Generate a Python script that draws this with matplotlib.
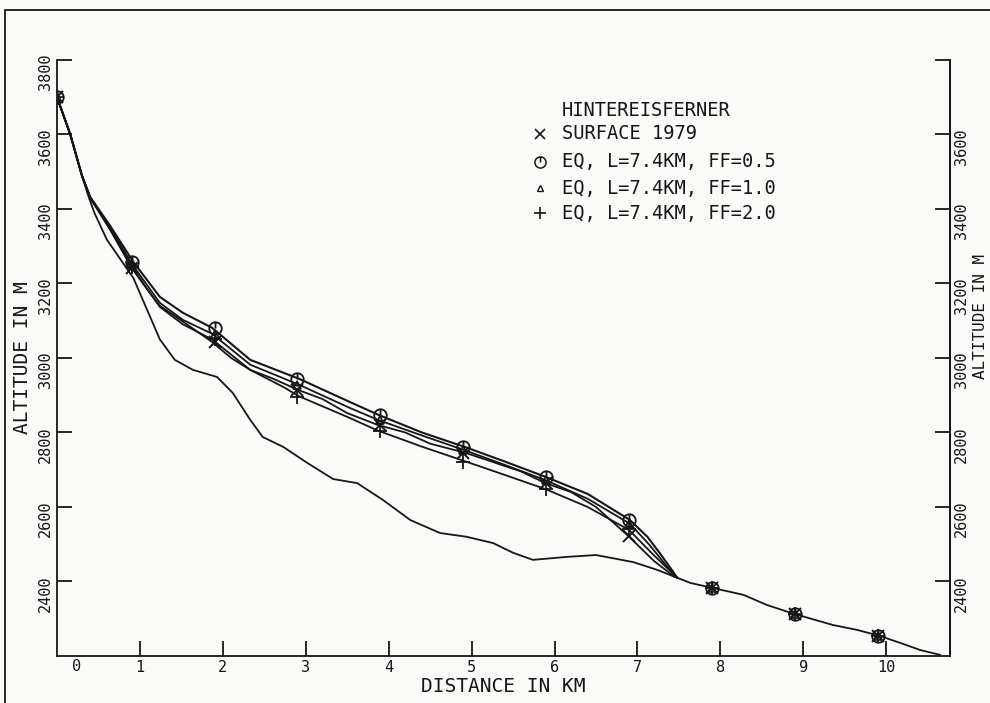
import matplotlib.pyplot as plt
from matplotlib.path import Path
from matplotlib.patches import Rectangle

plt.rcParams['font.family'] = ['DejaVu Sans Mono', 'DejaVu Sans']

# marker positions along the flow line (km) and altitudes (m)
mark_km = [0.0, 0.9, 1.9, 2.9, 3.9, 4.9, 5.9, 6.9, 7.9, 8.9, 9.9]
surf79_mark = [3700, 3242, 3043, 2914, 2820, 2745, 2664, 2522, 2383, 2313, 2254]
ff05_mark = [3700, 3258, 3081, 2944, 2847, 2761, 2681, 2565, 2383, 2313, 2254]
ff10_mark = [3700, 3250, 3065, 2928, 2833, 2752, 2672, 2555, 2383, 2313, 2254]
ff20_mark = [3700, 3245, 3050, 2896, 2805, 2722, 2648, 2540, 2383, 2313, 2254]

# glacier bed / ice-free profile
bed_km = [0, 0.16, 0.30, 0.37, 0.45, 0.60, 0.92, 1.24, 1.42, 1.64, 1.93, 2.12, 2.33,
          2.48, 2.73, 3.02, 3.33, 3.62, 3.93, 4.26, 4.62, 4.94, 5.26, 5.50, 5.74,
          6.15, 6.50, 6.95, 7.24, 7.48, 7.64, 7.90, 8.28, 8.56, 8.89, 9.36, 9.65,
          9.92, 10.17, 10.41, 10.65]
bed_m = [3700, 3600, 3490, 3440, 3390, 3318, 3215, 3050, 2995, 2968, 2949, 2906, 2834,
         2788, 2761, 2718, 2675, 2664, 2619, 2565, 2530, 2520, 2503, 2477, 2458,
         2466, 2471, 2452, 2431, 2410, 2396, 2383, 2364, 2337, 2313, 2283, 2270,
         2254, 2235, 2216, 2203]

# surface 1979
surf79_km = [0, 0.16, 0.30, 0.40, 0.64, 0.90, 1.10, 1.24, 1.40, 1.60, 1.87, 2.10, 2.33,
             2.60, 2.91, 3.20, 3.50, 3.87, 4.20, 4.50, 4.93, 5.20, 5.60, 5.89, 6.20,
             6.50, 6.89, 7.20, 7.45]
surf79_m = [3700, 3600, 3490, 3430, 3345, 3242, 3180, 3140, 3116, 3085, 3043, 3000, 2968,
            2945, 2914, 2890, 2852, 2820, 2800, 2770, 2745, 2725, 2695, 2664, 2640,
            2600, 2522, 2455, 2412]

# equilibrium profiles, L=7.4 km
ff05_km = [0, 0.16, 0.30, 0.40, 0.64, 0.92, 1.24, 1.52, 1.87, 2.33, 2.92, 3.53, 3.88,
           4.40, 4.92, 5.40, 5.89, 6.40, 6.91, 7.12, 7.27, 7.39, 7.48]
ff05_m = [3700, 3600, 3490, 3432, 3355, 3258, 3164, 3121, 3081, 2995, 2944, 2882, 2847,
          2800, 2761, 2722, 2681, 2635, 2565, 2520, 2476, 2439, 2410]

ff10_km = [0, 0.16, 0.30, 0.40, 0.64, 0.91, 1.24, 1.52, 1.87, 2.33, 2.92, 3.53, 3.88,
           4.40, 4.92, 5.40, 5.89, 6.40, 6.91, 7.15, 7.35, 7.48]
ff10_m = [3700, 3600, 3490, 3431, 3350, 3250, 3148, 3102, 3065, 2982, 2928, 2866, 2833,
          2792, 2752, 2713, 2672, 2622, 2555, 2497, 2442, 2410]

ff20_km = [0, 0.16, 0.30, 0.40, 0.64, 0.90, 1.24, 1.52, 1.87, 2.33, 2.73, 2.92, 3.53,
           3.87, 4.40, 4.93, 5.40, 5.89, 6.40, 6.90, 7.20, 7.48]
ff20_m = [3700, 3600, 3490, 3430, 3345, 3245, 3137, 3090, 3050, 2968, 2922, 2897, 2839,
          2805, 2762, 2722, 2686, 2648, 2600, 2538, 2470, 2410]

legend_title = "HINTEREISFERNER"
legend_labels = ["SURFACE 1979", "EQ, L=7.4KM, FF=0.5",
                 "EQ, L=7.4KM, FF=1.0", "EQ, L=7.4KM, FF=2.0"]

ink = '#161616'
paper = '#fafaf8'

# plotter style circle with a stroke from top to centre
circ = Path.make_compound_path(
    Path.unit_circle(),
    Path([(0, 1), (0, 0)], [Path.MOVETO, Path.LINETO]))

fig = plt.figure(figsize=(9.9, 7.03), dpi=100, facecolor=paper)
ax = fig.add_axes([0.0576, 0.0669, 0.902, 0.8478], facecolor=paper)

ax.plot(bed_km, bed_m, color=ink, lw=1.3)
ax.plot(surf79_km, surf79_m, color=ink, lw=1.3)
ax.plot(ff05_km, ff05_m, color=ink, lw=1.5)
ax.plot(ff10_km, ff10_m, color=ink, lw=1.3)
ax.plot(ff20_km, ff20_m, color=ink, lw=1.3)

ax.plot(mark_km, surf79_mark, 'x', color=ink, ms=8, mew=1.4)
ax.plot(mark_km, ff05_mark, ls='none', marker=circ, color=ink, mfc='none', ms=9, mew=1.3)
ax.plot(mark_km, ff10_mark, '^', color=ink, mfc='none', ms=6, mew=1.2)
ax.plot(mark_km, ff20_mark, '+', color=ink, ms=10, mew=1.3)

ax.set_xlim(0, 10.77)
ax.set_ylim(2200, 3800)

# legend drawn as plain text rows
ax.text(0.5655, 0.916, legend_title, transform=ax.transAxes, fontsize=13.5,
        ha='left', va='center', color=ink)
leg_marks = [dict(marker='x', ms=7, mew=1.2), dict(marker=circ, ms=8, mew=1.1, mfc='none'),
             dict(marker='^', ms=5, mew=1.0, mfc='none'), dict(marker='+', ms=9, mew=1.2)]
row_y = [0.876, 0.829, 0.785, 0.743]
for lab, mk, yy in zip(legend_labels, leg_marks, row_y):
    ax.plot([0.541], [yy], ls='none', color=ink, transform=ax.transAxes, clip_on=False, **mk)
    ax.text(0.5655, yy, lab, transform=ax.transAxes, fontsize=13.5,
            ha='left', va='center', color=ink)

ax.spines['top'].set_visible(False)
for s in ['left', 'right', 'bottom']:
    ax.spines[s].set_linewidth(1.3)
    ax.spines[s].set_color(ink)

ax.set_xticks(range(1, 11))
ax.set_yticks(range(2400, 3801, 200))
ax.tick_params(axis='both', direction='in', length=11, width=1.3, color=ink,
               labelsize=11, labelcolor=ink)
ax.tick_params(axis='x', pad=3)
ax.tick_params(axis='y', labelrotation=90, pad=3)
ax.text(0.23, -0.005, "0", transform=ax.get_xaxis_transform(), ha='center', va='top',
        fontsize=11, color=ink)

ax2 = ax.twinx()
ax2.set_ylim(2200, 3800)
ax2.set_yticks(range(2400, 3801, 200))
ax2.set_yticklabels([str(v) for v in range(2400, 3601, 200)] + [''])
ax2.tick_params(axis='y', direction='in', length=11, width=1.3, color=ink,
                labelsize=11, labelcolor=ink, labelrotation=90, pad=3)
for s in ['top', 'left', 'bottom']:
    ax2.spines[s].set_visible(False)
ax2.spines['right'].set_linewidth(1.3)
ax2.spines['right'].set_color(ink)

ax.set_xlabel("DISTANCE IN KM", fontsize=14, color=ink, labelpad=1)
ax.set_ylabel("ALTITUDE IN M", fontsize=14, color=ink, labelpad=4)
fig.text(0.9905, 0.55, "ALTITUDE IN M", rotation=90, fontsize=11.5, color=ink,
         ha='center', va='center')

# outer frame of the scanned page
fig.add_artist(Rectangle((0.005, -0.05), 1.2, 1.0358, transform=fig.transFigure,
                         fill=False, lw=1.3, ec=ink))

fig.savefig("out.png", dpi=100, facecolor=paper)
